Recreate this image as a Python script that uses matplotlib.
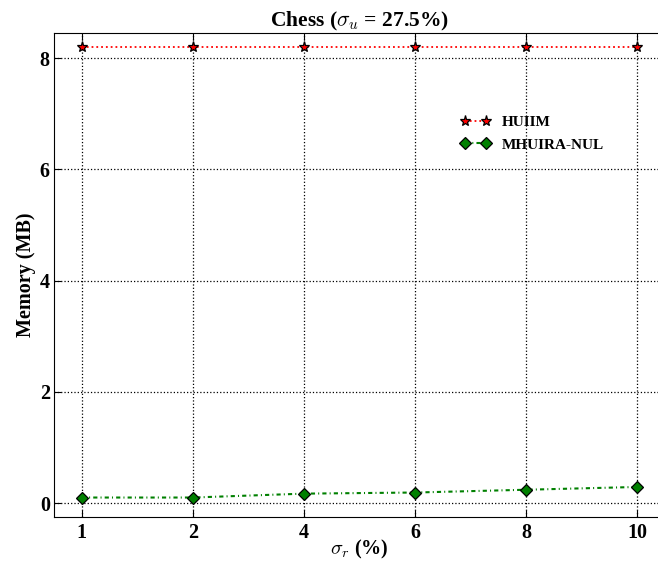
import matplotlib
matplotlib.use("Agg")
import matplotlib.pyplot as plt

categories = ["1", "2", "4", "6", "8", "10"]
huiim = [8.2, 8.2, 8.2, 8.2, 8.2, 8.2]
mhuira_nul = [0.1, 0.1, 0.17, 0.19, 0.24, 0.29]

plt.rcParams['font.family'] = ['Liberation Serif', 'DejaVu Serif']
plt.rcParams['font.weight'] = 'bold'
plt.rcParams['mathtext.fontset'] = 'cm'

fig = plt.figure(figsize=(6.58, 5.68), dpi=100)
ax = fig.add_axes([54/658, 51/568, (665-54)/658, (517-33)/568])

x = list(range(len(categories)))
ax.plot(x, huiim, color='red', linestyle=':', linewidth=1.3, marker='*',
        markersize=8, markerfacecolor='red', markeredgecolor='black',
        markeredgewidth=0.9, label='HUIIM')
ax.plot(x, mhuira_nul, color='green', linestyle=(0, (2, 1.5, 0.5, 1.5)), linewidth=1.5,
        marker='D', markersize=6.5, markerfacecolor='green', markeredgecolor='black',
        markeredgewidth=0.9, label='MHUIRA-NUL')

ax.set_xlim(-0.25, 5.25)
ax.set_ylim(-0.25, 8.45)
ax.set_xticks(x)
ax.set_xticklabels(categories)
ax.set_yticks([0, 2, 4, 6, 8])
ax.tick_params(direction='in', top=True, right=True, labelsize=14.5, length=5)
ax.tick_params(axis='x', pad=4)
ax.tick_params(axis='y', pad=3)
for lab in ax.get_xticklabels() + ax.get_yticklabels():
    lab.set_fontweight('bold')
ax.grid(True, color='black', linestyle=':', linewidth=0.9)

ax.set_title(r'Chess ($\sigma_u$ = 27.5%)', fontsize=15.5, fontweight='bold', pad=5)
ax.set_xlabel(r'$\sigma_r$ (%)', fontsize=14.5, fontweight='bold', labelpad=-3)
ax.set_ylabel('Memory (MB)', fontsize=14.5, fontweight='bold', labelpad=3)

leg = ax.legend(loc='upper left', bbox_to_anchor=(447/658, 1 - 102/568),
                bbox_transform=fig.transFigure, frameon=False, numpoints=2,
                handlelength=1.95, handletextpad=0.75, labelspacing=0.55,
                prop={'weight': 'bold', 'size': 11})

fig.savefig('out.png', dpi=100)
